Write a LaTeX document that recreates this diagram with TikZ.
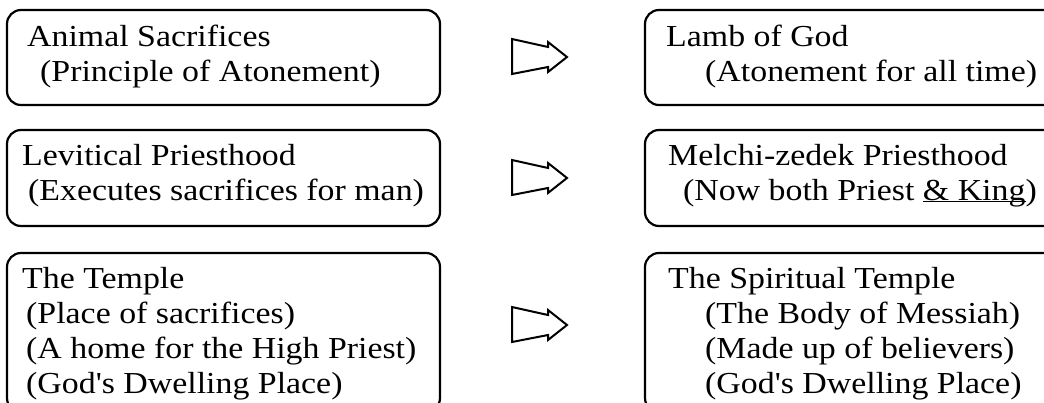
\documentclass[tikz,border=0pt]{standalone}
\usepackage{fontspec}
\setmainfont{Liberation Serif}[Ligatures=TeXOff,FakeStretch=1.11]
\begin{document}
\begin{tikzpicture}[x=1pt,y=-1pt,
  box/.style={draw=black,line width=2.2pt,rounded corners=14pt},
  txt/.style={anchor=base west,inner sep=0pt,font=\fontsize{30.5}{34}\selectfont},
  hollowarrow/.style={draw=black,line width=2pt,line join=miter,fill=white}]
\useasboundingbox (0,0) rectangle (1044,402);
\fill[white] (0,0) rectangle (1044,402);
\clip (0,0) rectangle (1044,402);
% boxes
\draw[box] (7,10) rectangle (440,105);
\draw[box] (7,130) rectangle (440,226);
\draw[box] (7,253) rectangle (440,412);
\draw[box] (645,10) rectangle (1070,105);
\draw[box] (645,130) rectangle (1070,226);
\draw[box] (645,253) rectangle (1070,412);
% arrows
\foreach \n/\cy in {a1/57,a2/178,a3/325}{
  \coordinate (\n) at (540,\cy);
  \draw[hollowarrow] ([shift={(-28,-18)}]\n) -- ([shift={(8,-10)}]\n) -- ([shift={(8,-15)}]\n)
    -- ([shift={(27,0)}]\n) -- ([shift={(8,15)}]\n) -- ([shift={(8,10)}]\n)
    -- ([shift={(-28,17)}]\n) -- cycle;
}
% left texts
\node[txt] (l1a) at (27,46) {Animal Sacrifices};
\node[txt] (l1b) at (40,81) {(Principle of Atonement)};
\node[txt] (l2a) at (22,165) {Levitical Priesthood};
\node[txt] (l2b) at (28,200) {(Executes sacrifices for man)};
\node[txt] (l3a) at (22,288) {The Temple};
\node[txt] (l3b) at (26,323) {(Place of sacrifices)};
\node[txt] (l3c) at (26,358) {(A home for the High Priest)};
\node[txt] (l3d) at (26,393) {(God's Dwelling Place)};
% right texts
\node[txt] (r1a) at (666,46) {Lamb of God};
\node[txt] (r1b) at (705,81) {(Atonement for all time)};
\node[txt] (r2a) at (668,165) {Melchi-zedek Priesthood};
\node[txt] (r2b) at (683,200) {(Now both Priest \underline{\smash{\&\ King}})};
\node[txt] (r3a) at (668,288) {The Spiritual Temple};
\node[txt] (r3b) at (705,323) {(The Body of Messiah)};
\node[txt] (r3c) at (705,358) {(Made up of believers)};
\node[txt] (r3d) at (705,393) {(God's Dwelling Place)};
\end{tikzpicture}
\end{document}
